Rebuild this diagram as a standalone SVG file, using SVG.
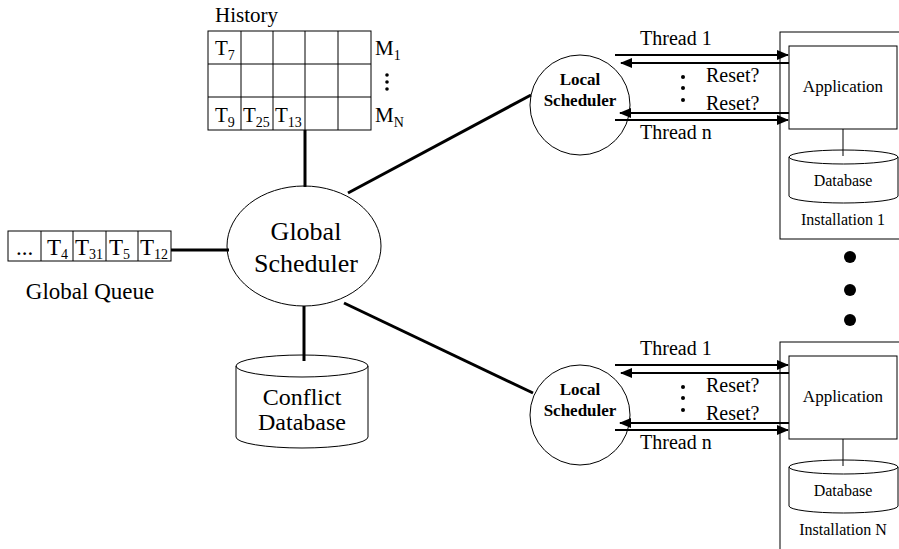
<svg xmlns="http://www.w3.org/2000/svg" width="899" height="549" viewBox="0 0 899 549">
<style>
.thin{fill:none;stroke:#000;stroke-width:1}
.thick{fill:none;stroke:#000;stroke-width:3}
.arr{fill:none;stroke:#000;stroke-width:2.2}
.cell{font-size:21px}
.q{font-size:23px}
.sub{font-size:14px}
.th{font-size:20px}
.ls{font-size:17px;font-weight:bold}
.sm{font-size:16px}
</style>
<defs>
<marker id="ah" markerWidth="12" markerHeight="10" refX="11" refY="5" orient="auto" markerUnits="userSpaceOnUse">
<path d="M0,0 L12,5 L0,10 Z" fill="#000"/>
</marker>
</defs>
<rect width="899" height="549" fill="#fff"/>
<g font-family="Liberation Serif" fill="#000">

<g id="connectors">
<line class="thick" x1="305" y1="130" x2="305" y2="187"/>
<line class="thick" x1="171" y1="250" x2="229" y2="250"/>
<line class="thick" x1="304" y1="306" x2="304" y2="361"/>
<line class="thick" x1="348" y1="193" x2="531" y2="95"/>
<line class="thick" x1="344" y1="303" x2="533" y2="393"/>
<line class="arr" x1="615" y1="55" x2="788" y2="55" marker-end="url(#ah)"/>
<line class="arr" x1="789" y1="63" x2="621" y2="63" marker-end="url(#ah)"/>
<line class="arr" x1="789" y1="113" x2="620" y2="113" marker-end="url(#ah)"/>
<line class="arr" x1="615" y1="120" x2="788" y2="120" marker-end="url(#ah)"/>
<line class="arr" x1="615" y1="365" x2="788" y2="365" marker-end="url(#ah)"/>
<line class="arr" x1="789" y1="373" x2="621" y2="373" marker-end="url(#ah)"/>
<line class="arr" x1="789" y1="423" x2="620" y2="423" marker-end="url(#ah)"/>
<line class="arr" x1="615" y1="430" x2="788" y2="430" marker-end="url(#ah)"/>
<line class="thin" x1="843" y1="129" x2="843" y2="156"/>
<line class="thin" x1="843" y1="439" x2="843" y2="466"/>
</g>

<g id="history">
<text x="215" y="22" font-size="21">History</text>
<rect class="thin" x="208" y="31" width="163" height="99"/>
<line class="thin" x1="208" y1="64" x2="371" y2="64"/>
<line class="thin" x1="208" y1="97" x2="371" y2="97"/>
<line class="thin" x1="241" y1="31" x2="241" y2="130"/>
<line class="thin" x1="273" y1="31" x2="273" y2="130"/>
<line class="thin" x1="305" y1="31" x2="305" y2="130"/>
<line class="thin" x1="338" y1="31" x2="338" y2="130"/>
<text class="cell" x="215" y="55">T<tspan class="sub" dy="5">7</tspan></text>
<text class="cell" x="215" y="122">T<tspan class="sub" dy="5">9</tspan></text>
<text class="cell" x="243" y="122">T<tspan class="sub" dy="5">25</tspan></text>
<text class="cell" x="275" y="122">T<tspan class="sub" dy="5">13</tspan></text>
<text class="cell" x="375" y="55">M<tspan class="sub" dy="5">1</tspan></text>
<text class="cell" x="375" y="122">M<tspan class="sub" dy="5">N</tspan></text>
<circle cx="387" cy="75" r="1.8"/>
<circle cx="387" cy="82" r="1.8"/>
<circle cx="387" cy="89" r="1.8"/>
</g>

<g id="global-queue">
<rect class="thin" x="8" y="231" width="163" height="30"/>
<line class="thin" x1="41" y1="231" x2="41" y2="261"/>
<line class="thin" x1="73" y1="231" x2="73" y2="261"/>
<line class="thin" x1="106" y1="231" x2="106" y2="261"/>
<line class="thin" x1="138" y1="231" x2="138" y2="261"/>
<text class="q" x="16" y="255">...</text>
<text class="q" x="47" y="255">T<tspan class="sub" dy="4">4</tspan></text>
<text class="q" x="75" y="255">T<tspan class="sub" dy="4">31</tspan></text>
<text class="q" x="109" y="255">T<tspan class="sub" dy="4">5</tspan></text>
<text class="q" x="140" y="255">T<tspan class="sub" dy="4">12</tspan></text>
<text class="q" x="90" y="299" text-anchor="middle">Global Queue</text>
</g>

<g id="global-scheduler">
<ellipse class="thin" cx="304" cy="246" rx="77" ry="60" fill="#fff"/>
<text x="306" y="240" text-anchor="middle" font-size="26">Global</text>
<text x="306" y="272" text-anchor="middle" font-size="26">Scheduler</text>
</g>

<g id="conflict-database">
<path class="thin" d="M236,366 L236,437 A66,11 0 0 0 368,437 L368,366"/>
<ellipse class="thin" cx="302" cy="366" rx="66" ry="11"/>
<text x="302" y="405" text-anchor="middle" font-size="24">Conflict</text>
<text x="302" y="430" text-anchor="middle" font-size="24">Database</text>
</g>

<g id="local-scheduler-1">
<circle class="thin" cx="580" cy="105" r="50" fill="#fff"/>
<text class="ls" x="580" y="85" text-anchor="middle">Local</text>
<text class="ls" x="580" y="106" text-anchor="middle">Scheduler</text>
<text class="th" x="640" y="45">Thread 1</text>
<text class="th" x="706" y="82">Reset?</text>
<text class="th" x="706" y="110">Reset?</text>
<text class="th" x="640" y="139">Thread n</text>
<circle cx="683" cy="77" r="2"/>
<circle cx="683" cy="88" r="2"/>
<circle cx="683" cy="100" r="2"/>
</g>

<g id="local-scheduler-n">
<circle class="thin" cx="580" cy="415" r="50" fill="#fff"/>
<text class="ls" x="580" y="395" text-anchor="middle">Local</text>
<text class="ls" x="580" y="416" text-anchor="middle">Scheduler</text>
<text class="th" x="640" y="355">Thread 1</text>
<text class="th" x="706" y="392">Reset?</text>
<text class="th" x="706" y="420">Reset?</text>
<text class="th" x="640" y="449">Thread n</text>
<circle cx="683" cy="387" r="2"/>
<circle cx="683" cy="398" r="2"/>
<circle cx="683" cy="410" r="2"/>
</g>

<g id="installation-1">
<rect class="thin" x="780" y="32" width="130" height="207"/>
<rect class="thin" x="789" y="46" width="108" height="83"/>
<text x="843" y="92" text-anchor="middle" font-size="17">Application</text>
<path class="thin" d="M789,157 L789,196 A54.5,7 0 0 0 898,196 L898,157"/>
<ellipse class="thin" cx="843.5" cy="157" rx="54.5" ry="7"/>
<text class="sm" x="843" y="186" text-anchor="middle">Database</text>
<text class="sm" x="843" y="225" text-anchor="middle">Installation 1</text>
</g>

<g id="ellipsis-installations">
<circle cx="850" cy="257" r="6"/>
<circle cx="850" cy="290" r="6"/>
<circle cx="850" cy="320" r="6"/>
</g>

<g id="installation-n">
<rect class="thin" x="780" y="342" width="130" height="220"/>
<rect class="thin" x="789" y="356" width="108" height="83"/>
<text x="843" y="402" text-anchor="middle" font-size="17">Application</text>
<path class="thin" d="M789,467 L789,506 A54.5,7 0 0 0 898,506 L898,467"/>
<ellipse class="thin" cx="843.5" cy="467" rx="54.5" ry="7"/>
<text class="sm" x="843" y="496" text-anchor="middle">Database</text>
<text class="sm" x="843" y="535" text-anchor="middle">Installation N</text>
</g>
</g>
</svg>
